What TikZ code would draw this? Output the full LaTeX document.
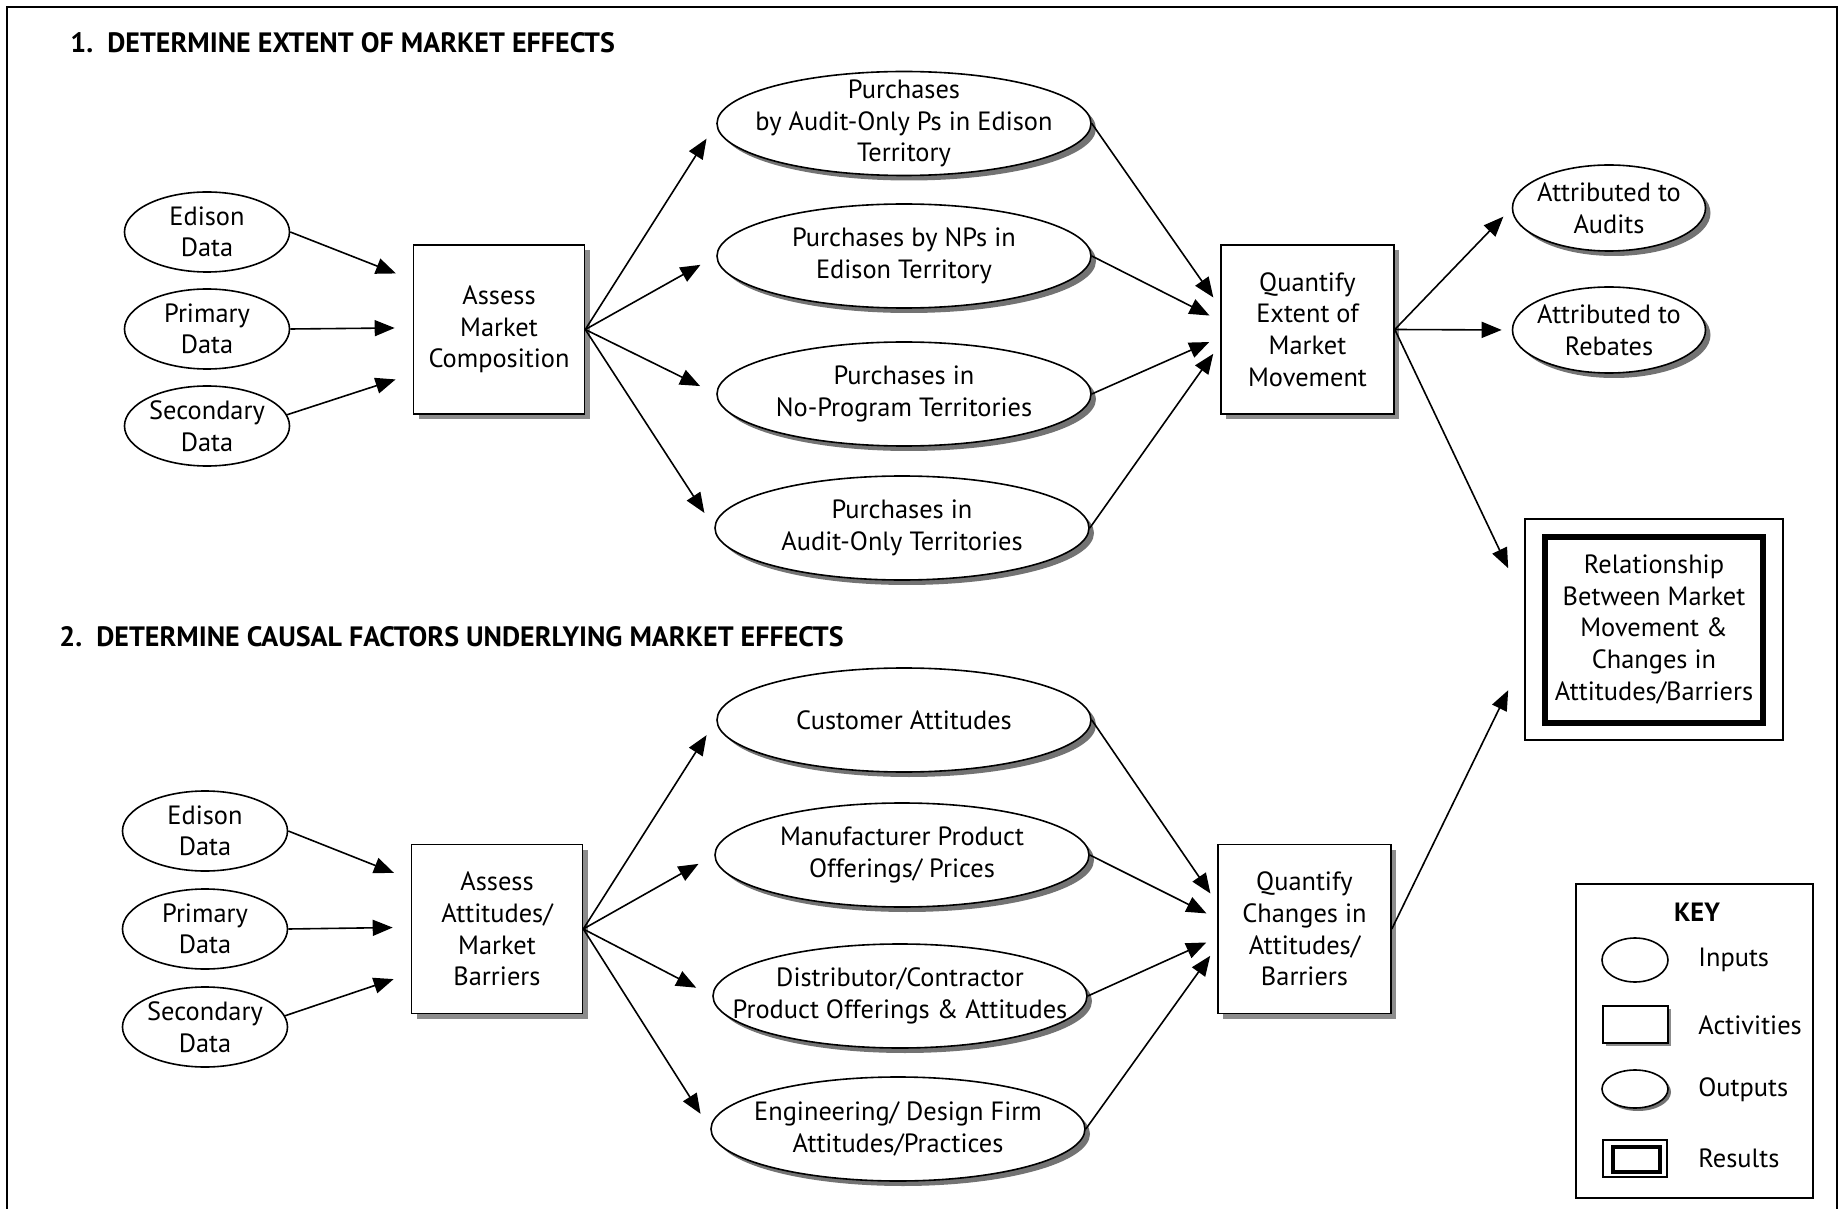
\documentclass[tikz,border=0pt]{standalone}
\usepackage{fontspec}
\setmainfont{PT Sans}
\usetikzlibrary{arrows.meta,shapes.geometric,shadows,calc}
\begin{document}
\begin{tikzpicture}[x=0.5pt,y=-0.5pt,
  every node/.style={font=\fontsize{13.2}{15.8}\selectfont},
  lw/.style={line width=0.8pt},
  inp/.style={ellipse,draw,lw,inner sep=0pt,minimum width=82.5pt,minimum height=40pt},
  outp/.style={ellipse,draw,lw,inner sep=0pt,fill=white,
     drop shadow={shadow xshift=2.5pt,shadow yshift=-2.5pt,fill=black!55,opacity=1}},
  bigout/.style={outp,minimum width=187pt,minimum height=52pt},
  attr/.style={outp,minimum width=96.5pt,minimum height=43pt},
  act/.style={rectangle,draw,lw,inner sep=0pt,align=center,fill=white,minimum width=85.5pt,minimum height=84.5pt,
     drop shadow={shadow xshift=2.5pt,shadow yshift=-2.5pt,fill=black!45,opacity=1}},
  txt/.style={align=center,inner sep=0pt},
  ttl/.style={font=\fontsize{14}{16}\bfseries\selectfont,anchor=west,inner sep=0pt},
  arr/.style={lw,-{Triangle[length=10pt,width=8pt]}},
]
\useasboundingbox (0,0) rectangle (1844,1209);
\draw[line width=1pt] (7,1209) -- (7,7) -- (1837,7) -- (1837,1209);

% titles
\node[ttl] (t1) at (70,43) {1.\ \ DETERMINE EXTENT OF MARKET EFFECTS};
\node[ttl] (t2) at (59,637) {2.\ \ DETERMINE CAUSAL FACTORS UNDERLYING MARKET EFFECTS};

% ---------- section 1 ----------
\node[inp] (ed1) at (207,232) {}; \node[txt] (ed1t) at (ed1) {Edison\\Data};
\node[inp] (pr1) at (207,329) {}; \node[txt] (pr1t) at (pr1) {Primary\\Data};
\node[inp] (se1) at (207,426) {}; \node[txt] (se1t) at (se1) {Secondary\\Data};

\node[act] (amc) at (499,329.5) {Assess\\Market\\Composition};

\node[bigout] (p1) at (904,123.5) {}; \node[txt] (p1t) at (p1) {Purchases\\by Audit-Only Ps in Edison\\Territory};
\node[bigout] (p2) at (904,256) {};   \node[txt] (p2t) at (p2) {Purchases by NPs in\\Edison Territory};
\node[bigout] (p3) at (904,394) {};   \node[txt] (p3t) at (p3) {Purchases in\\No-Program Territories};
\node[bigout] (p4) at (902,528) {};   \node[txt] (p4t) at (p4) {Purchases in\\Audit-Only Territories};

\node[act,minimum width=86.5pt] (qe) at (1307.5,329.5) {Quantify\\Extent of\\Market\\Movement};

\node[attr] (au) at (1609,208) {}; \node[txt] (aut) at (au) {Attributed to\\Audits};
\node[attr] (rb) at (1609,330) {}; \node[txt] (rbt) at (rb) {Attributed to\\Rebates};

\node[draw,lw,minimum width=129pt,minimum height=110.5pt,inner sep=0pt] (res) at (1654,629.5) {};
\node[draw,line width=3pt,minimum width=109pt,minimum height=93pt,align=center,inner sep=0pt] (resi) at (res)
  {Relationship\\Between Market\\Movement \&\\Changes in\\Attitudes/Barriers};

% ---------- section 2 ----------
\node[inp] (ed2) at (205,831) {};  \node[txt] (ed2t) at (ed2) {Edison\\Data};
\node[inp] (pr2) at (205,929) {};  \node[txt] (pr2t) at (pr2) {Primary\\Data};
\node[inp] (se2) at (205,1027) {}; \node[txt] (se2t) at (se2) {Secondary\\Data};

\node[act] (aab) at (497,929) {Assess\\Attitudes/\\Market\\Barriers};

\node[bigout] (c1) at (904,720) {};  \node[txt] (c1t) at (c1) {Customer Attitudes};
\node[bigout] (c2) at (902,855) {};  \node[txt] (c2t) at (c2) {Manufacturer Product\\Offerings/ Prices};
\node[bigout] (c3) at (900,996) {};  \node[txt] (c3t) at (c3) {Distributor/Contractor\\Product Offerings \& Attitudes};
\node[bigout] (c4) at (898,1129) {}; \node[txt] (c4t) at (c4) {Engineering/ Design Firm\\Attitudes/Practices};

\node[act,minimum width=86.5pt] (qc) at (1304.5,929) {Quantify\\Changes in\\Attitudes/\\Barriers};

% ---------- key ----------
\node[draw,lw,minimum width=118.5pt,minimum height=157pt,inner sep=0pt] (key) at (1694.5,1041) {};
\node[font=\fontsize{13.2}{15}\bfseries\selectfont,inner sep=0pt] (keyt) at (1697,912) {KEY};
\node[ellipse,draw,lw,minimum width=33pt,minimum height=22pt,inner sep=0pt] (ki) at (1635,960) {};
\node[anchor=west,inner sep=0pt] (kil) at (1698,960) {Inputs};
\node[rectangle,draw,lw,fill=white,minimum width=32.5pt,minimum height=18.5pt,inner sep=0pt,
  drop shadow={shadow xshift=1.5pt,shadow yshift=-1.5pt,fill=black!45,opacity=1}] (ka) at (1635.5,1024.5) {};
\node[anchor=west,inner sep=0pt] (kal) at (1698,1025) {Activities};
\node[ellipse,draw,lw,fill=white,minimum width=33pt,minimum height=19pt,inner sep=0pt,
  drop shadow={shadow xshift=1.5pt,shadow yshift=-1.5pt,fill=black!55,opacity=1}] (ko) at (1635,1089) {};
\node[anchor=west,inner sep=0pt] (kol) at (1698,1090) {Outputs};
\node[draw,lw,minimum width=32pt,minimum height=18.5pt,inner sep=0pt] (kr) at (1635,1158.5) {};
\node[draw,line width=2pt,minimum width=23.5pt,minimum height=12.5pt,inner sep=0pt] (kri) at (1636.5,1159.5) {};
\node[anchor=west,inner sep=0pt] (krl) at (1698,1158) {Results};

% ---------- connectors section 1 ----------
\draw[arr,shorten >=9pt] (ed1.east) -- ($(amc.north west)!0.21!(amc.south west)$);
\draw[arr,shorten >=9pt] (pr1.east) -- ($(amc.north west)!0.49!(amc.south west)$);
\draw[arr,shorten >=9pt] (se1.8)   -- ($(amc.north west)!0.76!(amc.south west)$);

\draw[arr,shorten >=9pt] (amc.east) -- (p1.west);
\draw[arr,shorten >=9pt] (amc.east) -- (p2.west);
\draw[arr,shorten >=9pt] (amc.east) -- (p3.west);
\draw[arr,shorten >=9pt] (amc.east) -- (p4.west);

\draw[arr,shorten >=6pt] (p1.east) -- ($(qe.north west)!0.37!(qe.south west)$);
\draw[arr,shorten >=6pt] (p2.east) -- ($(qe.north west)!0.45!(qe.south west)$);
\draw[arr,shorten >=6pt] (p3.east) -- ($(qe.north west)!0.545!(qe.south west)$);
\draw[arr,shorten >=6pt] (p4.east) -- ($(qe.north west)!0.585!(qe.south west)$);

\draw[arr,shorten >=6pt] (qe.east) -- (au.west);
\draw[arr,shorten >=5pt] (qe.east) -- (rb.west);
\draw[arr] (qe.east) -- ($(res.north west)+(-16,50)$);

% ---------- connectors section 2 ----------
\draw[arr,shorten >=9pt] (ed2.east) -- ($(aab.north west)!0.21!(aab.south west)$);
\draw[arr,shorten >=9pt] (pr2.east) -- ($(aab.north west)!0.49!(aab.south west)$);
\draw[arr,shorten >=9pt] (se2.8)   -- ($(aab.north west)!0.76!(aab.south west)$);

\draw[arr,shorten >=9pt] (aab.east) -- (c1.west);
\draw[arr,shorten >=9pt] (aab.east) -- (c2.west);
\draw[arr,shorten >=9pt] (aab.east) -- (c3.west);
\draw[arr,shorten >=9pt] (aab.east) -- (c4.west);

\draw[arr,shorten >=6pt] (c1.east) -- ($(qc.north west)!0.35!(qc.south west)$);
\draw[arr,shorten >=6pt] (c2.east) -- ($(qc.north west)!0.44!(qc.south west)$);
\draw[arr,shorten >=6pt] (c3.east) -- ($(qc.north west)!0.55!(qc.south west)$);
\draw[arr,shorten >=6pt] (c4.east) -- ($(qc.north west)!0.60!(qc.south west)$);

\draw[arr] (qc.east) -- ($(res.north west)+(-16,172)$);
\end{tikzpicture}
\end{document}
